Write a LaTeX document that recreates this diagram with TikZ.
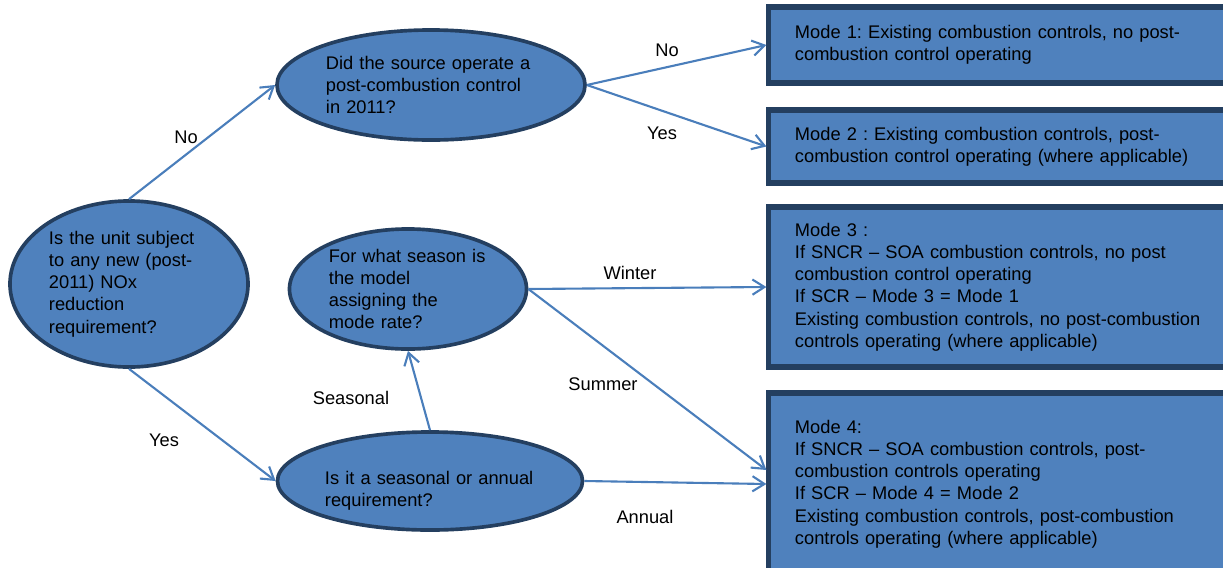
\documentclass[tikz,border=0pt]{standalone}
\usepackage{fontspec}
\setmainfont{Liberation Sans}
\usepackage{tikz}
\usetikzlibrary{arrows.meta, positioning, calc, shapes.geometric}
\definecolor{BoxBlue}{HTML}{4F81BD}
\definecolor{EdgeNavy}{HTML}{243F60}
\definecolor{FlowBlue}{HTML}{4A7EBB}
\frenchspacing

\begin{document}
\begin{tikzpicture}[x=0.025cm, y=-0.025cm, >={Straight Barb[length=0.3cm, width=0.38cm]},
        font=\fontsize{13}{15.8}\selectfont,
        question/.style={ellipse, draw=EdgeNavy, line width=2.6pt, fill=BoxBlue, inner sep=0pt, align=left},
        modebox/.style={rectangle, draw=EdgeNavy, line width=3.6pt, fill=BoxBlue, inner xsep=0.65cm, inner ysep=0pt,
            minimum width=12.025cm, text width=10.725cm, align=left},
        flow/.style={->, draw=FlowBlue, line width=1.5pt}]
        \useasboundingbox (0,0) rectangle (1223,567);
        % Questions
        \node [question, minimum width=5.95cm, minimum height=4.15cm, text width=4cm] (qunit) at (129,284)
            {Is the unit subject\\to any new (post-\\2011) NOx\\reduction\\requirement?};
        \node [question, minimum width=7.7cm, minimum height=2.75cm, text width=5.25cm] (qpost) at (431,85)
            {Did the source operate a\\post-combustion control\\in 2011?};
        \node [question, minimum width=5.925cm, minimum height=3cm, text width=3.95cm] (qseason) at (408,289)
            {For what season is\\the model\\assigning the\\mode rate?};
        \node [question, minimum width=7.625cm, minimum height=2.45cm, text width=5.25cm, text height=0.8cm] (qannual) at (430,481)
            {Is it a seasonal or annual\\requirement?};
        % Modes
        \node [modebox, minimum height=1.9cm] (mode1) at (1009.5,45)
            {Mode 1: Existing combustion controls, no post-\\combustion control operating};
        \node [modebox, minimum height=1.825cm] (mode2) at (1009.5,146.5)
            {Mode 2 : Existing combustion controls, post-\\combustion control operating (where applicable)};
        \node [modebox, minimum height=4cm] (mode3) at (1009.5,287)
            {Mode 3 :\\If SNCR -- SOA combustion controls, no post\\combustion control operating\\If SCR -- Mode 3 = Mode 1\\Existing combustion controls, no post-combustion\\controls operating (where applicable)};
        \node [modebox, minimum height=4.55cm] (mode4) at (1009.5,484)
            {Mode 4:\\If SNCR -- SOA combustion controls, post-\\combustion controls operating\\If SCR -- Mode 4 = Mode 2\\Existing combustion controls, post-combustion\\controls operating (where applicable)};
        % Connectors
        \draw [flow] (qunit.north) -- (qpost.west);
        \draw [flow] (qunit.south) -- (qannual.west);
        \draw [flow] (qpost.east) -- (mode1.west);
        \draw [flow] (qpost.east) -- (mode2.west);
        \draw [flow] (qseason.east) -- (mode3.west);
        \draw [flow] (qseason.east) -- ([yshift=0.35cm]mode4.west);
        \draw [flow] (qannual.north) -- (qseason.south);
        \draw [flow] (qannual.east) -- (mode4.west);
        % Labels
        \node (lno1) at (186,137) {No};
        \node (lyes1) at (164,440) {Yes};
        \node (lno2) at (667,50) {No};
        \node (lyes2) at (662,133) {Yes};
        \node (lwinter) at (630,273) {Winter};
        \node (lsummer) at (603,384) {Summer};
        \node (lseasonal) at (351,398) {Seasonal};
        \node (lannual) at (645,517) {Annual};
    \end{tikzpicture}
\end{document}
